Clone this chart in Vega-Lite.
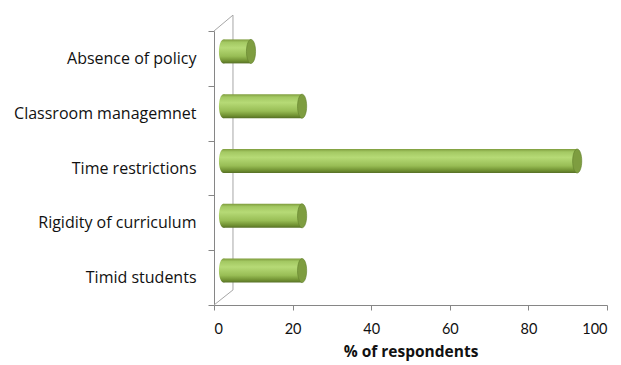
{
  "$schema": "https://vega.github.io/schema/vega-lite/v6.json",
  "width": 393,
  "height": 274,
  "autosize": "none",
  "padding": {"left": 214, "top": 31, "right": 14, "bottom": 60},
  "background": "white",
  "config": {
    "view": {"stroke": null},
    "font": "Open Sans",
    "axis": {
      "domainColor": "#868686",
      "tickColor": "#868686",
      "grid": false,
      "labelColor": "#111111",
      "titleFont": "Open Sans"
    }
  },
  "datasets": {
    "barriers": [
      {"barrier": "Absence of policy", "percent": 7},
      {"barrier": "Classroom managemnet", "percent": 20},
      {"barrier": "Time restrictions", "percent": 90},
      {"barrier": "Rigidity of curriculum", "percent": 20},
      {"barrier": "Timid students", "percent": 20}
    ],
    "wall": [
      {"step": 1, "depth": 0, "level": 1},
      {"step": 2, "depth": 4.83, "level": 1.058},
      {"step": 3, "depth": 4.83, "level": 0.055},
      {"step": 4, "depth": 0, "level": 0}
    ]
  },
  "layer": [
    {
      "data": {"name": "wall"},
      "mark": {"type": "line", "color": "#a6a6a6", "strokeWidth": 1, "clip": false},
      "encoding": {
        "x": {
          "field": "depth",
          "type": "quantitative",
          "scale": {"domain": [0, 100], "nice": false, "zero": true},
          "axis": {
            "values": [0, 20, 40, 60, 80, 100],
            "title": "% of respondents",
            "titleFontSize": 15.5,
            "titleFontWeight": "bold",
            "titleColor": "#111111",
            "titlePadding": 9,
            "tickSize": 5,
            "labelPadding": 12,
            "labelFont": "Lato",
            "labelFontSize": 14.5
          }
        },
        "y": {
          "field": "level",
          "type": "quantitative",
          "scale": {"domain": [0, 1], "nice": false, "zero": false},
          "axis": null
        },
        "order": {"field": "step", "type": "quantitative"}
      }
    },
    {
      "data": {"name": "barriers"},
      "encoding": {
        "y": {
          "field": "barrier",
          "type": "nominal",
          "sort": null,
          "scale": {"paddingInner": 0, "paddingOuter": 0},
          "axis": {
            "title": null,
            "tickBand": "extent",
            "tickSize": 6,
            "labelPadding": 12,
            "labelLimit": 220,
            "labelFont": "Open Sans",
            "labelFontSize": 16
          }
        }
      },
      "layer": [
        {
          "mark": {
            "type": "point",
            "shape": "M0,-1A0.38,1 0 1,1 0,1A0.38,1 0 1,1 0,-1Z",
            "filled": true,
            "opacity": 1,
            "size": 576,
            "xOffset": 9.5,
            "yOffset": -7,
            "color": {
              "gradient": "linear",
              "x1": 0, "y1": 0, "x2": 0, "y2": 1,
              "stops": [
                {"offset": 0, "color": "#7f9c3e"},
                {"offset": 0.12, "color": "#a3c862"},
                {"offset": 0.35, "color": "#b6da76"},
                {"offset": 0.7, "color": "#98bd55"},
                {"offset": 0.9, "color": "#6f8f31"},
                {"offset": 1, "color": "#566f26"}
              ]
            }
          },
          "encoding": {
            "x": {"datum": 0, "type": "quantitative"}
          }
        },
        {
          "mark": {
            "type": "bar",
            "size": 24,
            "xOffset": 9.5,
            "yOffset": -7,
            "color": {
              "gradient": "linear",
              "x1": 0, "y1": 0, "x2": 0, "y2": 1,
              "stops": [
                {"offset": 0, "color": "#7f9c3e"},
                {"offset": 0.12, "color": "#a3c862"},
                {"offset": 0.35, "color": "#b6da76"},
                {"offset": 0.7, "color": "#98bd55"},
                {"offset": 0.9, "color": "#6f8f31"},
                {"offset": 1, "color": "#566f26"}
              ]
            }
          },
          "encoding": {
            "x": {
              "field": "percent",
              "type": "quantitative",
              "scale": {"domain": [0, 100], "nice": false},
              "axis": {
                "values": [0, 20, 40, 60, 80, 100],
                "title": "% of respondents",
                "titleFontSize": 15.5,
                "titleFontWeight": "bold",
                "titleColor": "#111111",
                "titlePadding": 9,
                "tickSize": 5,
                "labelPadding": 12,
                "labelFont": "Lato",
                "labelFontSize": 14.5
              }
            }
          }
        },
        {
          "mark": {
            "type": "point",
            "shape": "M0,-1A0.38,1 0 1,1 0,1A0.38,1 0 1,1 0,-1Z",
            "filled": true,
            "opacity": 1,
            "size": 576,
            "xOffset": 9.5,
            "yOffset": -7,
            "color": "#7e9d40",
            "stroke": "#62802c",
            "strokeWidth": 0.6
          },
          "encoding": {
            "x": {"field": "percent", "type": "quantitative"}
          }
        }
      ]
    }
  ],
  "resolve": {"scale": {"y": "independent"}, "axis": {"y": "independent"}}
}
